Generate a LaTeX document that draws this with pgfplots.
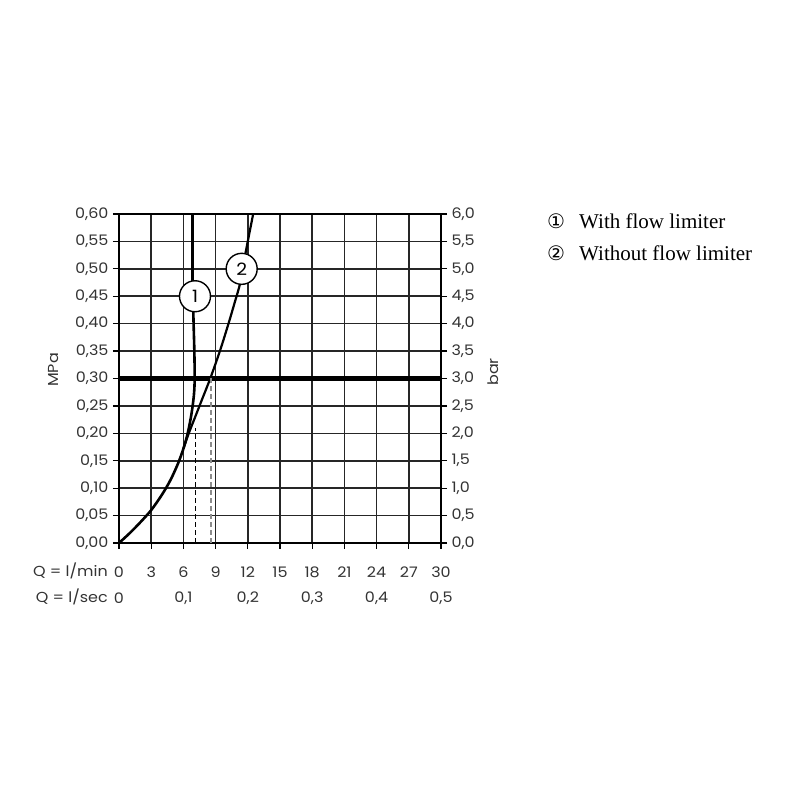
\documentclass[border=0pt]{standalone}
\usepackage{pgfplots}
\pgfplotsset{compat=1.18}
\usepackage{fontspec}
\setmainfont{Liberation Serif}
\newfontfamily\tickfont[FakeStretch=1.1]{Poppins}
\newfontfamily\symfont{DejaVu Sans}
\newcommand\tf{\tickfont\fontsize{14.5}{15}\selectfont}

\pgfplotsset{
  chartbase/.style={
    at={(119pt,257pt)}, anchor=south west,
    scale only axis, width=322pt, height=329pt,
    xmin=0, xmax=30,
    /pgf/number format/assume math mode=true,
    /pgf/number format/fixed, /pgf/number format/fixed zerofill,
    /pgf/number format/use comma,
    tick label style={font=\tf, text=black!80},
    tick align=outside, major tick length=6pt,
    tick style={black, line width=1.3pt},
  }
}

\begin{document}
\begin{tikzpicture}
\path[use as bounding box] (0,0) rectangle (800pt,800pt);

% right axis (bar)
\begin{axis}[chartbase,
  ymin=0, ymax=6,
  axis x line=none, axis y line*=right,
  axis line style={line width=2.2pt},
  ytick={0,0.5,1,1.5,2,2.5,3,3.5,4,4.5,5,5.5,6},
  /pgf/number format/precision=1,
  yticklabel style={anchor=west, xshift=1pt},
]
\addplot[draw=none] coordinates {(0,0)};
\end{axis}

% main axis (MPa)
\begin{axis}[chartbase,
  ymin=0, ymax=0.6,
  axis line style={line width=2.2pt},
  xtick={0,3,6,9,12,15,18,21,24,27,30},
  ytick={0,0.05,0.1,0.15,0.2,0.25,0.3,0.35,0.4,0.45,0.5,0.55,0.6},
  xtick pos=lower, ytick pos=left,
  grid=major, major grid style={black!85, line width=1.6pt},
  /pgf/number format/precision=2,
  yticklabel style={anchor=east, xshift=-1pt},
  xticklabel style={anchor=center, yshift=-23pt, /pgf/number format/precision=0},
  extra x ticks={0,6,12,18,24,30},
  extra x tick labels={0,{0,1},{0,2},{0,3},{0,4},{0,5}},
  extra x tick style={grid=none, major tick length=0pt,
    xticklabel style={yshift=-32pt}},
]
% common lower part + curve 1 (with flow limiter)
\addplot[black, line width=2.6pt, smooth] coordinates {
  (0,0) (1,0.018) (2,0.038) (3,0.06) (4,0.088) (4.8,0.115) (5.5,0.145)
  (6.0,0.172) (6.4,0.20) (6.75,0.235) (6.98,0.27) (7.05,0.30) (7.02,0.35)
  (6.95,0.40) (6.9,0.44) (6.85,0.48) (6.85,0.54) (6.85,0.60)};
% curve 2 (without flow limiter)
\addplot[black, line width=2.2pt, smooth] coordinates {
  (6.0,0.172) (6.5,0.20) (7.1,0.23) (7.7,0.26) (8.5,0.30) (9.4,0.35)
  (10.2,0.40) (10.8,0.44) (11.3,0.475) (11.8,0.53) (12.5,0.60)};
% operating pressure line
\addplot[black, line width=5pt] coordinates {(0,0.3) (30,0.3)};
% flow read-off lines
\addplot[black, line width=1.3pt, dash pattern=on 5pt off 3pt] coordinates {(7.13,0) (7.13,0.21)};
\addplot[black!45, line width=2.2pt, dash pattern=on 5pt off 3pt] coordinates {(8.54,0) (8.54,0.30)};
% curve markers
\node[circle, draw, fill=white, line width=1.4pt, minimum size=31pt, inner sep=0pt,
  font=\tickfont\fontsize{17}{17}\selectfont] at (axis cs:7.08,0.45) {1};
\node[circle, draw, fill=white, line width=1.4pt, minimum size=31pt, inner sep=0pt,
  font=\tickfont\fontsize{17}{17}\selectfont] at (axis cs:11.43,0.50) {2};
\end{axis}

% axis titles
\node[rotate=90, font=\tf, text=black!80] at (54pt,430pt) {MPa};
\node[rotate=90, font=\tf, text=black!80] at (493pt,428pt) {bar};
\node[anchor=east, inner sep=0pt, font=\tf, text=black!80] at (108pt,229pt) {Q = l/min};
\node[anchor=east, inner sep=0pt, font=\tf, text=black!80] at (108pt,203pt) {Q = l/sec};

% legend
\node[font=\symfont\fontsize{20}{20}\selectfont] at (556pt,579pt) {①};
\node[anchor=west, inner sep=0pt, font=\fontsize{21}{22}\selectfont] at (579pt,579pt) {With flow limiter};
\node[font=\symfont\fontsize{20}{20}\selectfont] at (556pt,547pt) {②};
\node[anchor=west, inner sep=0pt, font=\fontsize{21}{22}\selectfont] at (579pt,547pt) {Without flow limiter};
\end{tikzpicture}
\end{document}
